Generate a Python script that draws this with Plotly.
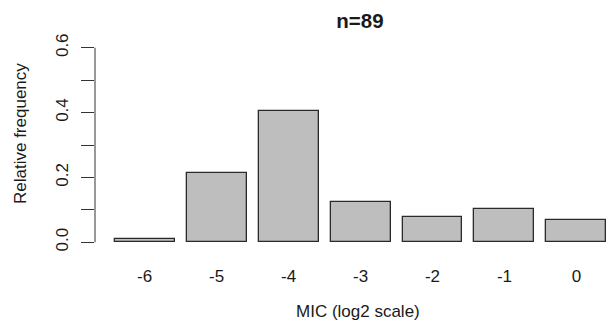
import plotly.graph_objects as go

# Data
mic_labels = ["-6", "-5", "-4", "-3", "-2", "-1", "0"]
rel_freq = [0.0112, 0.2135, 0.4045, 0.1236, 0.0787, 0.1011, 0.0674]
n_label = "n=89"
y_tick_vals = [0.0, 0.1, 0.2, 0.3, 0.4, 0.5, 0.6]
y_tick_text = ["0.0", "", "0.2", "", "0.4", "", "0.6"]

# R barplot positions: width 1, space 0.2
bar_centers = [0.7 + 1.2 * i for i in range(len(mic_labels))]

FONT = "Liberation Sans, Arial, sans-serif"
TXT = "#1a1a1a"

fig = go.Figure()
fig.add_trace(go.Bar(
    x=bar_centers, y=rel_freq, width=1.0,
    marker=dict(color="#bebebe", line=dict(color="#2a2a2a", width=1.3)),
    showlegend=False, hoverinfo="skip",
))

fig.update_layout(
    width=607, height=329,
    margin=dict(l=95, r=0, t=40, b=79),
    paper_bgcolor="white", plot_bgcolor="white",
    font=dict(family=FONT, size=17, color=TXT),
    title=dict(text="<b>" + n_label + "</b>", x=(360 - 95) / 512, xref="paper",
               xanchor="center", y=1 - 21 / 329, yanchor="middle",
               font=dict(size=20.5, family=FONT, color=TXT)),
    xaxis=dict(range=[-0.128, 8.41], showgrid=False, zeroline=False, showline=False,
               tickvals=bar_centers, ticktext=mic_labels, ticks="",
               ticklabelstandoff=14, tickfont=dict(size=17, color=TXT)),
    yaxis=dict(range=[-0.024, 0.624], showgrid=False, zeroline=False, showline=False,
               tickvals=y_tick_vals, ticktext=y_tick_text, ticks="outside",
               ticklen=13, tickwidth=1, tickcolor="#333", tickangle=-90,
               ticklabelstandoff=6, tickfont=dict(size=17, color=TXT)),
    bargap=0,
)

# y axis line (R draws only from first to last tick)
fig.add_shape(type="line", xref="paper", yref="y", x0=0, x1=0,
              y0=y_tick_vals[0], y1=y_tick_vals[-1],
              line=dict(color="#333", width=1))

fig.add_annotation(text="MIC (log2 scale)", xref="paper", yref="paper",
                   x=(358 - 95) / 512, y=(250 - 311.7) / 210, showarrow=False,
                   xanchor="center", yanchor="middle",
                   font=dict(size=17, family=FONT, color=TXT))
fig.add_annotation(text="Relative frequency", xref="paper", yref="paper",
                   x=(20 - 95) / 512, y=(250 - 134) / 210, showarrow=False,
                   textangle=-90, xanchor="center", yanchor="middle",
                   font=dict(size=17, family=FONT, color=TXT))

fig.write_html("out.html")
